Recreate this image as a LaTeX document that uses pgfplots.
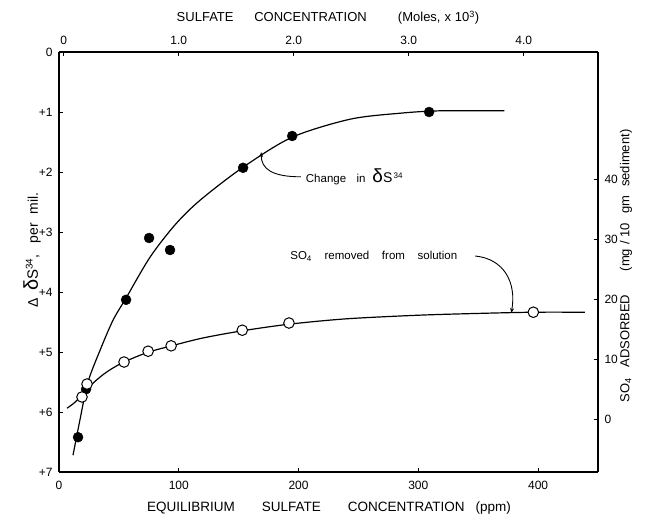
\documentclass[border=0pt]{standalone}
\usepackage{pgfplots}
\pgfplotsset{compat=1.18}
\usepackage{fontspec}
\setmainfont{Liberation Sans}
\usetikzlibrary{arrows.meta}
\begin{document}
\begin{tikzpicture}[font=\fontsize{11.5}{13}\selectfont]
\useasboundingbox (-59pt,-49pt) rectangle (589pt,472pt);
\pgfplotsset{
  common/.style={
    at={(0,0)}, anchor=south west, scale only axis, width=539pt, height=420pt,
    xmin=0, xmax=450,
    tick align=inside, major tick length=4pt,
    /pgf/number format/assume math mode=true,
    axis line style={line width=1.2pt},
    every tick/.style={line width=1pt, black},
    tick label style={font=\fontsize{12}{13}\selectfont},
    clip=false,
  }
}
% Left axis: change in delta S34 (reversed), bottom axis ppm
\begin{axis}[common,
  ymin=0, ymax=7, y dir=reverse,
  axis x line*=bottom, axis y line*=left,
  xtick={0,100,200,300,400},
  ytick={0,1,2,3,4,5,6,7}, yticklabels={0,+1,+2,+3,+4,+5,+6,+7},
  xticklabel style={yshift=-6pt},
  yticklabel style={xshift=-3pt},
]
\addplot[black, line width=1.2pt, smooth, no marks] coordinates {
(11.7,6.72) (17.5,6.13) (24.2,5.50) (34.3,4.97) (45.1,4.47) (56.0,4.10)
(76.0,3.42) (96.9,2.88) (117.8,2.47) (153.7,1.92) (194.7,1.42) (243.1,1.12)
(284.9,1.02) (318.3,0.98) (371.8,0.98)};
\addplot[only marks, mark=*, mark size=5pt, mark options={fill=black, draw=black}] coordinates {
(15.9,6.42) (22.6,5.62) (56.0,4.13) (75.2,3.10) (92.7,3.30) (153.7,1.93) (194.7,1.40) (309,1.00)};
\node[anchor=west, inner sep=0pt] at (axis cs:206,2.08)
  {Change\hspace{0.9em}in\hspace{0.6em}{\fontsize{19}{19}\selectfont δ}{\fontsize{14}{14}\selectfont S}\textsuperscript{\,34}};
\draw[line width=0.9pt, -{Stealth[length=5pt,width=4pt]}] (axis cs:202,2.08) .. controls (axis cs:178,2.08) and (axis cs:168.8,1.95) .. (axis cs:168.8,1.67);
\node[anchor=west, inner sep=0pt] at (axis cs:193,3.40)
  {SO\textsubscript{4}\hspace{1.1em}removed\hspace{1.1em}from\hspace{1.1em}solution};
\draw[line width=0.9pt, -{Stealth[length=5pt,width=4pt]}] (axis cs:347.5,3.40) .. controls (axis cs:372,3.45) and (axis cs:382,3.85) .. (axis cs:377.6,4.35);
\end{axis}
% Right axis: SO4 adsorbed, top axis moles
\begin{axis}[common,
  ymin=-8.83, ymax=61.17,
  axis x line*=top, axis y line*=right,
  xtick={4,100,196,292,388}, xticklabels={0,1.0,2.0,3.0,4.0},
  ytick={0,10,20,30,40},
  xticklabel style={yshift=4pt},
  yticklabel style={xshift=3pt},
]
\addplot[black, line width=1.2pt, smooth, no marks] coordinates {
(6.7,1.8) (13.4,2.8) (20,4.2) (25.9,5.5) (34.3,7.0) (42.6,8.2) (54.3,9.5)
(74,11.1) (94,12.2) (120,13.5) (153,14.7) (192,15.8) (240,16.7) (300,17.3)
(350,17.6) (396,17.8) (439,17.8)};
\addplot[only marks, mark=*, mark size=5.3pt, mark options={fill=white, draw=black, line width=1pt}] coordinates {
(19.2,3.67) (23.4,5.83) (54.3,9.5) (74.4,11.3) (93.6,12.2) (153,14.8) (192,16.0) (396,17.8)};
\end{axis}
% axis titles
\node[rotate=90, font=\fontsize{14}{16}\selectfont] at (-27pt,222pt) {Δ\hspace{0.5em}{\fontsize{20}{20}\selectfont δ}{\fontsize{15}{15}\selectfont S}\textsuperscript{34},\hspace{0.8em}per\hspace{0.6em}mil.};
\node[rotate=90, font=\fontsize{13}{15}\selectfont] at (567pt,206pt) {SO\textsubscript{4}\hspace{0.8em}ADSORBED\hspace{1.8em}(mg\hspace{0.3em}/\hspace{0.3em}10\hspace{0.7em}gm\hspace{0.7em}sediment)};
\node[font=\fontsize{13.5}{15}\selectfont] at (270pt,-36pt) {EQUILIBRIUM\hspace{2em}SULFATE\hspace{2em}CONCENTRATION\hspace{0.8em}(ppm)};
\node[font=\fontsize{13}{15}\selectfont] at (269pt,454pt) {SULFATE\hspace{1.6em}CONCENTRATION\hspace{2.4em}(Moles,\hspace{0.3em}x\hspace{0.3em}10\textsuperscript{3})};
\end{tikzpicture}
\end{document}
